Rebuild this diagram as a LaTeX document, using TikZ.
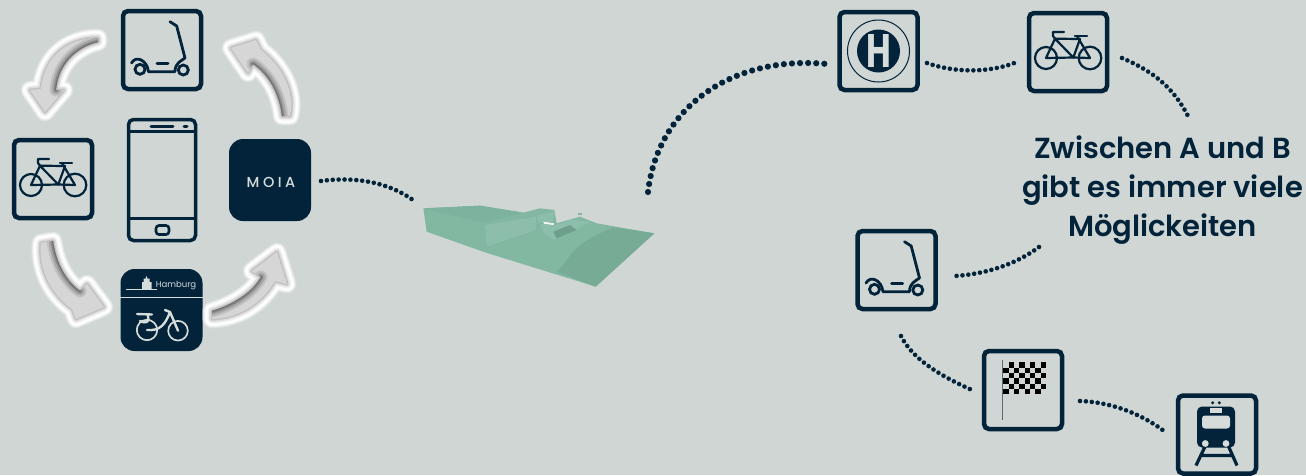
\documentclass[tikz,border=0pt]{standalone}
\usepackage{fontspec}
\setmainfont{Poppins}
\newfontfamily\headfont{Poppins SemiBold}
\newfontfamily\moiafont[LetterSpace=24]{Poppins Medium}
\usetikzlibrary{positioning, calc}
\definecolor{paper}{HTML}{CFD6D4}
\definecolor{navy}{HTML}{02233A}
\definecolor{pale}{HTML}{D6DCDA}
\definecolor{modelbase}{HTML}{82B7A2}
\definecolor{modelroof}{HTML}{7DB39E}
\definecolor{modeldark}{HTML}{78AB95}
\definecolor{modellight}{HTML}{8DBDAB}
\definecolor{modelbits}{HTML}{6E9F8B}

\tikzset{
  iconbox/.style = {draw=navy, line width=4.5pt, rounded corners=5pt, minimum size=78pt, inner sep=0pt},
  appbox/.style  = {fill=navy, rounded corners=14pt, minimum size=82pt, inner sep=0pt},
  dotline/.style = {draw=navy, line width=4.6pt, line cap=round, dash pattern=on 0pt off 5.9pt},
  bigdots/.style = {dotline, line width=6.2pt, dash pattern=on 0pt off 8.1pt},
  thin/.style    = {draw=navy, line width=2.2pt, line cap=round, line join=round},
  scooter/.pic = {
    \draw[navy, line width=2.8pt, line cap=round, line join=round]
      (8,-28.3) -- (14.7,-24) -- (23,8) .. controls (19,11) and (13,13) .. (13,21.7) -- (-13.5,21.7)
      .. controls (-15,10) and (-26,5) .. (-30.5,13);
    \draw[navy, line width=3pt, line cap=round] (-5,13.3) -- (6,13.3);
    \draw[navy, line width=2.8pt] (-22,19.3) circle (5) (21.3,20) circle (5);
  },
  cycle/.pic = {
    \draw[thin] (-22,6) circle (11) (22,6) circle (11.3);
    \draw[thin] (-22,6) -- (-13,-13.3) -- (5.3,5.5) -- (-22,6);
    \draw[thin] (-13,-13.3) -- (12,-13) -- (5.3,5.5) -- (22,6) -- (9,-16);
    \draw[thin] (-15,-20) -- (-4,-20) (-15,-20) -- (-15,-16) -- (-13,-13.3);
    \draw[thin] (7,-16) -- (19,-16);
  },
}

% the four grey arrows of the loop: outline, then the curve that carries the shadow
\newcommand{\swoosh}[2]{
  \foreach \w/\c in {19/white!25!paper, 17/white!50!paper, 15.5/white!75!paper, 14/white!92!paper, 12/white, 9/white!95!black, 6/white!87!black, 3/white!76!black}
    \draw[draw=\c, fill=\c, line width=\w pt, line join=round] #1 -- cycle;
  \begin{scope}
    \clip #1 -- cycle;
    \fill[white!84!black] #1 -- cycle;
    \foreach \w/\c in {13/white!76!black, 9/white!66!black, 5/white!54!black, 2/white!44!black}
      \draw[draw=\c, line width=\w pt, line cap=round] #2;
  \end{scope}
}

\begin{document}
\begin{tikzpicture}[x=1pt, y=-1pt]
  \useasboundingbox (0,0) rectangle (1306,475);
  \clip (0,0) rectangle (1306,475);
  \fill[paper] (0,0) rectangle (1306,475);

  % phone loop
  \node[iconbox] (scootertop) at (162,50) {};
  \node[iconbox] (bikeleft) at (53,179) {};
  \node[appbox] (moia) at (270,180) {};
  \node[appbox] (hamburg) at (161.5,310) {};
  \pic at (scootertop) {scooter};
  \pic at (bikeleft) {cycle};
  \node[text=pale, font=\moiafont\fontsize{14.5}{15}\selectfont] (moialabel) at (271,182) {MOIA};

  \node[draw=navy, line width=3.5pt, rounded corners=5pt, minimum width=67pt, minimum height=121pt, inner sep=0pt] (phone) at (162,180) {};
  \draw[navy, line width=2.5pt] (phone.west |- 0,131.7) -- (phone.east |- 0,131.7);
  \draw[navy, line width=2.5pt] (phone.west |- 0,218.3) -- (phone.east |- 0,218.3);
  \draw[navy, line width=3pt, line cap=round] (151,126.7) -- (173,126.7) (184,126.7) -- (187,126.7);
  \draw[navy, line width=2.6pt, rounded corners=3pt] (156,225.5) rectangle (169,234.5);

  \swoosh{(98,38) .. controls (66,38) and (44,58) .. (41,89) -- (30,90) -- (45,112) -- (64,90) -- (56,90) .. controls (58,66) and (74,48) .. (98,42)}
    {(56,90) .. controls (58,66) and (74,48) .. (98,42)}
  \swoosh{(290,116) .. controls (296,92) and (282,66) .. (261,50) -- (256,40) -- (231,48) -- (248,73) -- (253,64) .. controls (268,74) and (279,92) .. (282,116)}
    {(253,64) .. controls (268,74) and (279,92) .. (282,116)}
  \swoosh{(41,243) .. controls (38,270) and (52,295) .. (72,309) -- (76,319) -- (104,307) -- (87,284) -- (80,291) .. controls (65,280) and (56,262) .. (53,241)}
    {(80,291) .. controls (65,280) and (56,262) .. (53,241)}
  \swoosh{(212,311) .. controls (232,305) and (252,293) .. (261,277) -- (252,271) -- (277,252) -- (287,284) -- (275,281) .. controls (262,303) and (240,318) .. (212,319)}
    {(212,311) .. controls (232,305) and (252,293) .. (261,277)}

  % hamburg app tile
  \draw[pale, line width=.8pt] (hamburg.west |- 0,297.7) -- (hamburg.east |- 0,297.7);
  \draw[pale, line width=.7pt] (126,289.5) -- (157,289.5);
  \fill[pale] (142,289) -- (142,282) -- (143.5,282) -- (143.5,278.5) -- (145.5,278.5) -- (146.5,276) -- (147.5,278.5) -- (149.5,278.5) -- (149.5,282) -- (151.5,282) -- (151.5,289) -- cycle;
  \node[text=pale, font=\fontsize{8.5}{9}\selectfont, inner sep=0pt] (hamburglabel) at (176,285.5) {Hamburg};
  \draw[pale, line width=1.7pt] (147,330) circle (10.2) (178,330.7) circle (9.8);
  \draw[pale, line width=2.4pt, line cap=round, line join=round]
    (178,330.7) -- (170,312) -- (165,310) (170,312) .. controls (165,325) and (160,331) .. (147,330)
    (148,316) .. controls (150,322) and (146,324) .. (140,321) (137,314) -- (152,314.5);

  % street model
  \begin{scope}[shift={(400,190)}, scale=0.3333]
    \fill[modelbase] (70,55) -- (240,47) -- (370,68) -- (420,55) -- (463,60) -- (470,100) -- (540,80) -- (590,100) -- (763,130) -- (587,290) -- (255,187) -- (80,125) -- cycle;
    \fill[modelroof] (70,55) -- (240,47) -- (370,68) -- (250,98) -- cycle;
    \fill[modellight] (255,105) -- (408,80) -- (408,120) -- (260,170) -- cycle;
    \fill[modellight] (412,75) -- (460,66) -- (460,95) -- (412,98) -- cycle;
    \fill[modeldark] (470,245) .. controls (520,200) and (500,170) .. (640,112) -- (763,130) -- (587,290) -- cycle;
    \fill[modellight] (420,100) -- (470,105) -- (510,90) -- (570,95) -- (520,125) -- (460,150) -- (430,130) -- cycle;
    \fill[white!80!paper] (430,95) -- (462,100) -- (460,105) -- (432,101) -- cycle;
    \fill[modelbits] (460,125) -- (510,105) -- (530,120) -- (470,145) -- cycle;
    \fill[modelbase] (535,70) rectangle (547,76);
  \end{scope}

  % text
  \node[text=navy, font=\headfont\fontsize{29}{39}\selectfont, align=center, inner sep=0pt] (claim) at (1162.5,190) {Zwischen A und B\\gibt es immer viele\\Möglickeiten};

  % stops on the way
  \node[iconbox] (stop) at (878.5,51) {};
  \node[iconbox] (bikeright) at (1068,52) {};
  \node[iconbox] (scooterright) at (896.5,270) {};
  \node[iconbox] (flag) at (1023,390) {};
  \node[iconbox] (train) at (1217,434.5) {};
  \pic at (bikeright) {cycle};
  \pic at (scooterright) {scooter};

  % bus stop sign
  \node[circle, draw=navy, line width=1pt, minimum size=62pt, inner sep=0pt] (stopring) at (stop) {};
  \node[circle, fill=navy, minimum size=43pt, inner sep=0pt] (stopdisc) at (stop) {};
  \node[text=pale, font=\bfseries\fontsize{47}{47}\selectfont, inner sep=0pt, xscale=.72, transform shape] (stoplabel) at (stop) {H};

  % checkered flag
  \draw[navy!60!paper, line width=1pt] (1002.8,360) -- (1002.8,420);
  \foreach \r in {0,...,5}
    \foreach \c in {0,...,7} {
      \pgfmathparse{int(mod(\r+\c,2))}
      \ifnum\pgfmathresult=1
        \fill[black] ({1003.3+\c*5.35},{362.3+\r*5.3}) rectangle ++(5.35,5.3);
      \fi
    }

  % train
  \begin{scope}[shift={(train)}]
    \draw[navy, line width=3.2pt] (-11,10) -- (-21,31) (10.7,10) -- (20,31) (-16,21) -- (15,21);
    \fill[navy, rounded corners=5pt] (-20,-28) rectangle (18,13);
    \fill[pale, rounded corners=3pt] (-15,-19) rectangle (13,-6);
    \fill[pale] (-6.7,-26.5) rectangle (5,-21.7);
    \fill[pale] (-11.7,9) circle (3.4) (9,9) circle (3.4);
    \fill[navy] (-4.3,-31.7) circle (1.7) (2.3,-31.7) circle (1.7);
  \end{scope}

  % dotted ways, free ends at named points
  \coordinate (moiaend) at (321,181);
  \coordinate (modelleft) at (413,200);
  \coordinate (modelright) at (648,192);
  \coordinate (stopleft) at (827,64);
  \coordinate (stopright) at (927,63);
  \coordinate (bikein) at (1017,62);
  \coordinate (bikeout) at (1122,58);
  \coordinate (claimtop) at (1188,116);
  \coordinate (claimleft) at (1039,247);
  \coordinate (scooterin) at (955,276);
  \coordinate (scooterout) at (901,336);
  \coordinate (flagin) at (972,390);
  \coordinate (flagout) at (1080,401);
  \coordinate (trainin) at (1164,431);

  \draw[dotline] (moiaend) .. controls (350,177) and (385,180) .. (modelleft);
  \draw[bigdots] (modelright) .. controls (658,105) and (735,55) .. (stopleft);
  \draw[dotline] (stopright) .. controls (955,73) and (990,73) .. (bikein);
  \draw[dotline] (bikeout) .. controls (1150,70) and (1172,85) .. (claimtop);
  \draw[dotline] (claimleft) .. controls (1015,265) and (985,274) .. (scooterin);
  \draw[dotline] (scooterout) .. controls (912,358) and (938,375) .. (flagin);
  \draw[dotline] (flagout) .. controls (1110,402) and (1140,413) .. (trainin);
\end{tikzpicture}
\end{document}
